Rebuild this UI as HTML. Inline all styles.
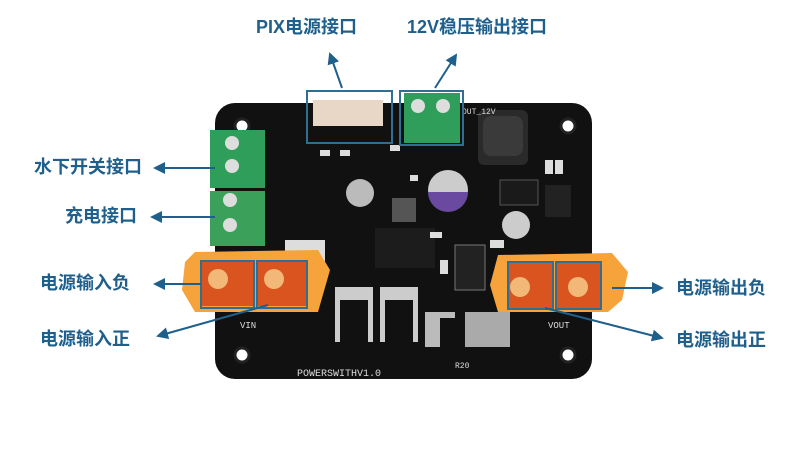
<!DOCTYPE html>
<html><head><meta charset="utf-8"><style>
body{margin:0;background:#fff;width:812px;height:458px;overflow:hidden;font-family:"Liberation Sans","Noto Sans CJK SC",sans-serif}
.l{position:absolute;color:#1f5f8c;font-weight:bold;font-size:18px;white-space:nowrap;line-height:22px}
</style></head><body>
<svg width="812" height="458" style="position:absolute;left:0;top:0">
<defs><marker id="a" markerWidth="6" markerHeight="6" refX="5" refY="3" orient="auto"><path d="M0,0 L6,3 L0,6 z" fill="#1f5f8c"/></marker></defs>
<rect x="215" y="103" width="377" height="276" rx="20" fill="#111"/>
<g fill="#fff" stroke="#222" stroke-width="3"><circle cx="242" cy="126" r="7"/><circle cx="568" cy="126" r="7"/><circle cx="242" cy="355" r="7"/><circle cx="568" cy="355" r="7"/></g>
<rect x="478" y="110" width="50" height="55" rx="6" fill="#2a2a2a"/>
<rect x="483" y="116" width="40" height="40" rx="8" fill="#3a3a3a"/>
<circle cx="448" cy="190" r="20" fill="#ccc"/><path d="M428,192 A20,20 0 0 0 468,192 z" fill="#6a4aa0"/>
<circle cx="516" cy="225" r="14" fill="#ccc"/>
<circle cx="360" cy="193" r="14" fill="#bbb"/>
<rect x="392" y="198" width="24" height="24" fill="#555"/>
<rect x="500" y="180" width="38" height="25" fill="#1a1a1a" stroke="#555"/>
<rect x="545" y="185" width="26" height="32" fill="#222"/>
<rect x="455" y="245" width="30" height="45" fill="#222" stroke="#777"/>
<rect x="285" y="240" width="40" height="25" fill="#ddd"/>
<rect x="335" y="287" width="38" height="55" fill="#ccc"/><rect x="340" y="300" width="28" height="42" fill="#111"/>
<rect x="380" y="287" width="38" height="55" fill="#ccc"/><rect x="385" y="300" width="28" height="42" fill="#111"/>
<rect x="425" y="312" width="30" height="35" fill="#bbb"/><rect x="440" y="318" width="15" height="30" fill="#111"/>
<rect x="465" y="312" width="45" height="35" fill="#aaa"/>
<rect x="375" y="228" width="60" height="40" fill="#1c1c1c"/>
<g fill="#ddd"><rect x="320" y="150" width="10" height="6"/><rect x="340" y="150" width="10" height="6"/><rect x="390" y="145" width="10" height="6"/><rect x="410" y="175" width="8" height="6"/><rect x="545" y="160" width="8" height="14"/><rect x="555" y="160" width="8" height="14"/><rect x="440" y="260" width="8" height="14"/><rect x="430" y="232" width="12" height="6"/><rect x="490" y="240" width="14" height="8"/></g>
<text x="297" y="376" fill="#ddd" font-family="Liberation Mono" font-size="10">POWERSWITHV1.0</text>
<text x="240" y="328" fill="#ddd" font-family="Liberation Mono" font-size="9">VIN</text>
<text x="548" y="328" fill="#ddd" font-family="Liberation Mono" font-size="9">VOUT</text>
<text x="462" y="114" fill="#ddd" font-family="Liberation Mono" font-size="8">OUT_12V</text>
<text x="455" y="368" fill="#ddd" font-family="Liberation Mono" font-size="8">R20</text>
<rect x="313" y="100" width="70" height="26" fill="#e8d6c6"/>
<rect x="404" y="93" width="56" height="50" fill="#2e9e5a"/>
<circle cx="418" cy="106" r="7" fill="#ddd"/><circle cx="443" cy="106" r="7" fill="#ddd"/>
<rect x="210" y="130" width="55" height="58" fill="#2e9e5a"/>
<circle cx="232" cy="143" r="7" fill="#ddd"/><circle cx="232" cy="166" r="7" fill="#ddd"/>
<rect x="210" y="191" width="55" height="55" fill="#3aa05a"/>
<circle cx="230" cy="200" r="7" fill="#ddd"/><circle cx="230" cy="225" r="7" fill="#ddd"/>
<path d="M195,252 L318,250 L330,270 L318,312 L195,312 L182,290 L185,262 z" fill="#f5a33a"/>
<rect x="202" y="262" width="52" height="44" fill="#d9541e"/><rect x="258" y="262" width="48" height="44" fill="#d9541e"/>
<circle cx="218" cy="279" r="10" fill="#f2b877"/><circle cx="274" cy="279" r="10" fill="#f2b877"/>
<path d="M498,255 L612,253 L628,272 L622,300 L608,312 L498,312 L490,285 z" fill="#f5a33a"/>
<rect x="507" y="262" width="45" height="46" fill="#d9541e"/><rect x="556" y="262" width="45" height="46" fill="#d9541e"/>
<circle cx="520" cy="287" r="10" fill="#f2b877"/><circle cx="578" cy="287" r="10" fill="#f2b877"/>
<g fill="none" stroke="#2f6f93" stroke-width="2">
<rect x="307" y="91" width="85" height="52"/><rect x="400" y="91" width="63" height="54"/>
<rect x="201" y="261" width="53" height="47"/><rect x="257" y="261" width="50" height="47"/>
<rect x="508" y="262" width="45" height="47"/><rect x="556" y="262" width="45" height="47"/>
</g>
<g stroke="#1f5f8c" stroke-width="2" fill="none">
<line x1="342" y1="88" x2="330" y2="54" marker-end="url(#a)"/>
<line x1="435" y1="88" x2="456" y2="55" marker-end="url(#a)"/>
<line x1="215" y1="168" x2="155" y2="168" marker-end="url(#a)"/>
<line x1="215" y1="217" x2="152" y2="217" marker-end="url(#a)"/>
<line x1="201" y1="284" x2="155" y2="284" marker-end="url(#a)"/>
<line x1="268" y1="305" x2="158" y2="336" marker-end="url(#a)"/>
<line x1="612" y1="288" x2="662" y2="288" marker-end="url(#a)"/>
<line x1="545" y1="308" x2="662" y2="338" marker-end="url(#a)"/>
</g>
</svg>
<div class="l" style="left:256px;top:16px">PIX电源接口</div>
<div class="l" style="left:407px;top:16px">12V稳压输出接口</div>
<div class="l" style="left:34px;top:156px">水下开关接口</div>
<div class="l" style="left:65px;top:205px">充电接口</div>
<div class="l" style="left:40px;top:272px">电源输入负</div>
<div class="l" style="left:40px;top:328px">电源输入正</div>
<div class="l" style="left:676px;top:277px">电源输出负</div>
<div class="l" style="left:676px;top:329px">电源输出正</div>
</body></html>
